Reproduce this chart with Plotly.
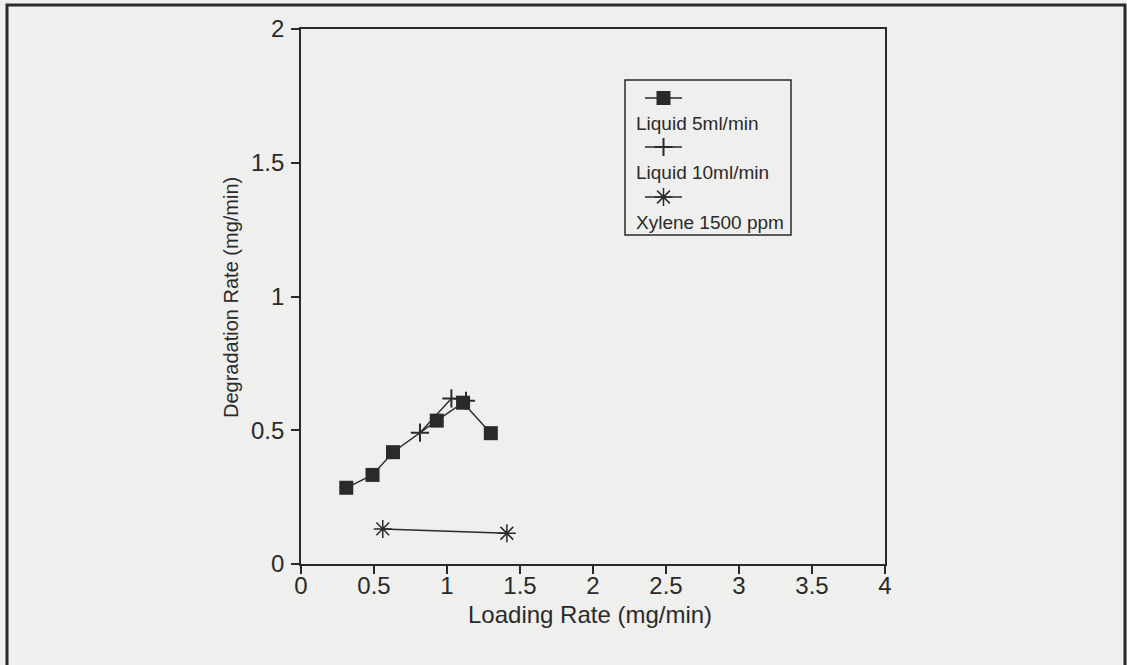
import plotly.graph_objects as go

# ---- data ----
liq5_x = [0.31, 0.49, 0.63, 0.93, 1.11, 1.30]
liq5_y = [0.285, 0.333, 0.418, 0.536, 0.603, 0.489]
liq10_x = [0.815, 1.03, 1.13]
liq10_y = [0.491, 0.619, 0.610]
xyl_x = [0.56, 1.41]
xyl_y = [0.131, 0.115]
series_names = ["Liquid 5ml/min", "Liquid 10ml/min", "Xylene 1500 ppm"]
x_ticks = [0, 0.5, 1, 1.5, 2, 2.5, 3, 3.5, 4]
x_tick_text = ["0", "0.5", "1", "1.5", "2", "2.5", "3", "3.5", "4"]
y_ticks = [0, 0.5, 1, 1.5, 2]
y_tick_text = ["0", "0.5", "1", "1.5", "2"]

INK = "#2a2a2a"
BG = "#efefed"
FONT = "Liberation Sans"

# plot area in pixels
L, R, T, B = 301, 885, 29, 564
W, H = 1127, 665

styles = [
    dict(symbol="square", size=14, color=INK, line=dict(width=0, color=INK)),
    dict(symbol="cross-thin", size=13, color=INK, line=dict(width=2, color=INK)),
    dict(symbol="asterisk", size=15, color=INK, line=dict(width=1.5, color=INK)),
]
xs = [liq5_x, liq10_x, xyl_x]
ys = [liq5_y, liq10_y, xyl_y]

fig = go.Figure()
for i in range(3):
    fig.add_trace(go.Scatter(
        x=xs[i], y=ys[i], mode="lines+markers", name=series_names[i],
        line=dict(color=INK, width=1.4), marker=styles[i], showlegend=False,
        cliponaxis=False,
    ))

# ---- manual legend (sample above label), drawn in pixel space on hidden axes ----
box_l, box_r, box_t, box_b = 625, 791, 80, 235
text_x = 634
sample_y = [98, 147, 197]
text_y = [123, 172, 222]
sample_x0, sample_x1 = 645, 682
for i in range(3):
    fig.add_trace(go.Scatter(
        x=[sample_x0, (sample_x0 + sample_x1) / 2, sample_x1],
        y=[sample_y[i]] * 3, xaxis="x2", yaxis="y2", mode="lines",
        line=dict(color=INK, width=1.4), showlegend=False, hoverinfo="skip",
    ))
    fig.add_trace(go.Scatter(
        x=[(sample_x0 + sample_x1) / 2], y=[sample_y[i]], xaxis="x2", yaxis="y2",
        mode="markers", marker=styles[i], showlegend=False, hoverinfo="skip",
    ))
    fig.add_annotation(
        x=text_x, y=text_y[i], xref="x2", yref="y2", text=series_names[i],
        showarrow=False, xanchor="left", yanchor="middle",
        font=dict(family=FONT, size=19, color=INK),
    )
fig.add_shape(type="rect", xref="x2", yref="y2", x0=box_l, x1=box_r,
              y0=box_t, y1=box_b, line=dict(color=INK, width=1.5))

# outer frame of the scanned page (left, top, right)
def px_to_paper_x(px):
    return (px - L) / (R - L)

def px_to_paper_y(py):
    return (B - py) / (B - T)

fig.add_shape(type="path", xref="paper", yref="paper",
              path=(f"M {px_to_paper_x(7)} {px_to_paper_y(680)} "
                    f"L {px_to_paper_x(7)} {px_to_paper_y(5)} "
                    f"L {px_to_paper_x(1125)} {px_to_paper_y(5)} "
                    f"L {px_to_paper_x(1125)} {px_to_paper_y(680)}"),
              line=dict(color=INK, width=3))

# axis titles as annotations for precise placement
fig.add_annotation(x=px_to_paper_x(590), y=px_to_paper_y(614), xref="paper", yref="paper",
                   text="Loading Rate (mg/min)", showarrow=False,
                   xanchor="center", yanchor="middle",
                   font=dict(family=FONT, size=24, color=INK))
fig.add_annotation(x=px_to_paper_x(231), y=px_to_paper_y(298), xref="paper", yref="paper",
                   text="Degradation Rate (mg/min)", showarrow=False, textangle=-90,
                   xanchor="center", yanchor="middle",
                   font=dict(family=FONT, size=20, color=INK))

axis_common = dict(
    showgrid=False, zeroline=False, showline=True, linecolor=INK, linewidth=1.6,
    mirror=True, ticks="outside", ticklen=8, tickwidth=1.5, tickcolor=INK,
    tickfont=dict(family=FONT, size=24, color=INK),
)

fig.update_layout(
    width=W, height=H,
    margin=dict(l=L, r=W - R, t=T, b=H - B, autoexpand=False),
    paper_bgcolor=BG, plot_bgcolor=BG,
    xaxis=dict(range=[0, 4], tickvals=x_ticks, ticktext=x_tick_text,
               ticklabelstandoff=-9, **axis_common),
    yaxis=dict(range=[0, 2], tickvals=y_ticks, ticktext=y_tick_text,
               ticklabelstandoff=2, **axis_common),
    xaxis2=dict(range=[L, R], overlaying="x", visible=False, fixedrange=True),
    yaxis2=dict(range=[B, T], overlaying="y", visible=False, fixedrange=True),
    showlegend=False,
)

fig.write_html("out.html")
